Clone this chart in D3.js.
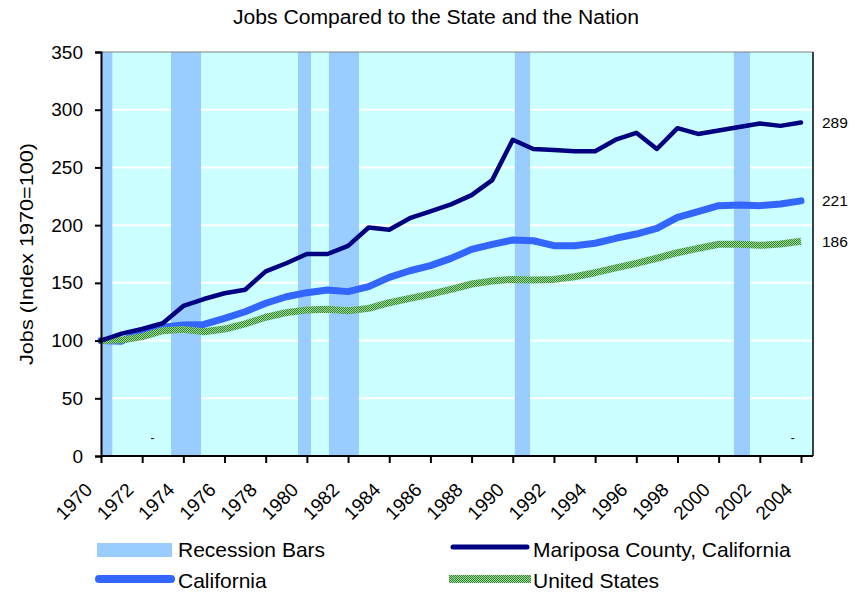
<!DOCTYPE html>
<html><head><meta charset="utf-8">
<script src="https://cdn.jsdelivr.net/npm/d3@7"></script>
<style>body{margin:0;background:#fff}svg{display:block;font-family:Arial,"Liberation Sans",sans-serif}</style>
</head><body><svg id="c" width="855" height="592"></svg>
<script>
const years = d3.range(1970, 2005);
const mariposa = [100,106,110,115,130,136,141,144,160,167,175,175,182,198,196,206,212,218,226,239,274,266,265,264,264,274,280,266,284,279,282,285,288,286,289];
const california = [100,99.5,107.7,111.5,113.5,114,119.3,125,132.3,138,141.5,143.8,142.4,146.7,154.8,160.5,164.9,171.2,179,183.4,187.1,186.5,182.2,182.2,184.3,188.6,192.3,197.2,206.8,211.7,216.9,217.4,216.9,218.3,221];
const unitedStates = [100,100.4,103.4,108.6,109.7,107.7,110,114.4,120.2,124.2,126.5,127.1,125.9,127.9,132.8,136.6,140.3,144.4,149,151.6,153,152.5,153,155.3,158.8,163,166.9,171.3,176.1,179.9,183.4,183.4,182.5,183.7,186];
const recessionStart = [1970.0, 1973.4, 1979.57, 1981.07, 1990.1, 2000.74];
const recessionEnd   = [1970.55, 1974.86, 1980.2, 1982.53, 1990.84, 2001.52];
const yTicks = [0,50,100,150,200,250,300,350];
const xTickYears = d3.range(1970, 2005, 2);
const endLabels = ["289","221","186"];
const seriesNames = ["Recession Bars","Mariposa County, California","California","United States"];

const svg = d3.select("#c");
const x = d3.scaleLinear().domain([1970, 2004]).range([101, 801]);
const y = d3.scaleLinear().domain([0, 350]).range([456, 52]);
const xMax = x.invert(813);

const defs = svg.append("defs");
const pat = defs.append("pattern").attr("id","usPat").attr("patternUnits","userSpaceOnUse").attr("width",2).attr("height",2);
pat.append("rect").attr("width",2).attr("height",2).attr("fill","#a6d6a0");
pat.append("rect").attr("x",0).attr("y",0).attr("width",1).attr("height",1).attr("fill","#2a8a2a");
pat.append("rect").attr("x",1).attr("y",1).attr("width",1).attr("height",1).attr("fill","#2a8a2a");

// title
svg.append("text").attr("x",436).attr("y",24).attr("text-anchor","middle").attr("font-size",20)
  .attr("textLength",406).attr("lengthAdjust","spacingAndGlyphs")
  .text("Jobs Compared to the State and the Nation");

// plot background
svg.append("rect").attr("x",x(1970)).attr("y",y(350)).attr("width",x(xMax)-x(1970)).attr("height",y(0)-y(350)).attr("fill","#ccffff");

// gridlines
svg.append("g").selectAll("line").data(yTicks.filter(d=>d>0 && d<350)).join("line")
  .attr("x1",x(1970)).attr("x2",x(xMax)).attr("y1",d=>y(d)).attr("y2",d=>y(d))
  .attr("stroke","#fff").attr("stroke-width",2);

// recession bars
svg.append("g").selectAll("rect").data(recessionStart).join("rect")
  .attr("x",(d)=>x(d)).attr("width",(d,i)=>x(recessionEnd[i])-x(d))
  .attr("y",y(350)).attr("height",y(0)-y(350)).attr("fill","#99ccff");

// plot borders
svg.append("line").attr("x1",x(1970)).attr("x2",x(xMax)).attr("y1",y(350)).attr("y2",y(350)).attr("stroke","#808080").attr("stroke-width",1);
svg.append("line").attr("x1",x(xMax)).attr("x2",x(xMax)).attr("y1",y(350)).attr("y2",y(0)).attr("stroke","#000").attr("stroke-width",1.5);

// lines
const line = vals => d3.line().x((d,i)=>x(years[i])).y(d=>y(d))(vals);
svg.append("path").attr("d",line(california)).attr("fill","none").attr("stroke","#3366ff").attr("stroke-width",7).attr("stroke-linejoin","round").attr("stroke-linecap","round");
svg.append("path").attr("d",line(unitedStates)).attr("fill","none").attr("stroke","url(#usPat)").attr("stroke-width",7).attr("stroke-linejoin","round");
svg.append("path").attr("d",line(mariposa)).attr("fill","none").attr("stroke","#000080").attr("stroke-width",4.5).attr("stroke-linejoin","round").attr("stroke-linecap","round");

// small dash marks
svg.append("g").selectAll("text").data([1972.5, 2003.6]).join("text")
  .attr("x",d=>x(d)).attr("y",y(16)).attr("text-anchor","middle").attr("font-size",12).attr("dy","0.35em").text("-");

// end labels
const lastVals = [mariposa[34], california[34], unitedStates[34]];
svg.append("g").selectAll("text").data(lastVals).join("text")
  .attr("x",822).attr("y",d=>y(d)).attr("dy","0.35em").attr("font-size",15.5).text((d,i)=>endLabels[i]);

// y axis
const yAxis = svg.append("g").attr("transform",`translate(${x(1970)},0)`)
  .call(d3.axisLeft(y).tickValues(yTicks).tickSize(6).tickPadding(12));
yAxis.select(".domain").attr("stroke","#000").attr("stroke-width",2);
yAxis.selectAll(".tick line").attr("stroke","#000").attr("stroke-width",2);
yAxis.selectAll(".tick text").attr("font-size",19).attr("font-family","Arial, 'Liberation Sans', sans-serif").attr("fill","#000");

// x axis
const xAxis = svg.append("g").attr("transform",`translate(0,${y(0)})`)
  .call(d3.axisBottom(x).tickValues(xTickYears).tickFormat(d3.format("d")).tickSize(7).tickSizeOuter(0));
xAxis.select(".domain").attr("d",`M${x(1970)},0H${x(xMax)}`).attr("stroke","#000").attr("stroke-width",2);
xAxis.selectAll(".tick line").attr("stroke","#000").attr("stroke-width",2);
xAxis.selectAll(".tick text").attr("font-size",19).attr("font-family","Arial, 'Liberation Sans', sans-serif").attr("fill","#000")
  .attr("text-anchor","end").attr("transform","translate(-8,35) rotate(-45)").attr("y",0).attr("dy",0);

// y label
svg.append("text").attr("transform","translate(33,254) rotate(-90)").attr("text-anchor","middle")
  .attr("font-size",19).attr("textLength",222).attr("lengthAdjust","spacingAndGlyphs").text("Jobs (Index 1970=100)");

// legend
const lg = svg.append("g").attr("font-size",21);
lg.append("rect").attr("x",97).attr("y",543).attr("width",75).attr("height",14).attr("fill","#99ccff");
lg.append("text").attr("x",178).attr("y",557).text(seriesNames[0]);
lg.append("line").attr("x1",453).attr("x2",527).attr("y1",547).attr("y2",547).attr("stroke","#000080").attr("stroke-width",5).attr("stroke-linecap","round");
lg.append("text").attr("x",533).attr("y",557).text(seriesNames[1]);
lg.append("line").attr("x1",99).attr("x2",171).attr("y1",579).attr("y2",579).attr("stroke","#3366ff").attr("stroke-width",8).attr("stroke-linecap","round");
lg.append("text").attr("x",178).attr("y",588).text(seriesNames[2]);
lg.append("rect").attr("x",449).attr("y",575).attr("width",82).attr("height",8).attr("fill","url(#usPat)");
lg.append("text").attr("x",533).attr("y",588).text(seriesNames[3]);
</script></body></html>
